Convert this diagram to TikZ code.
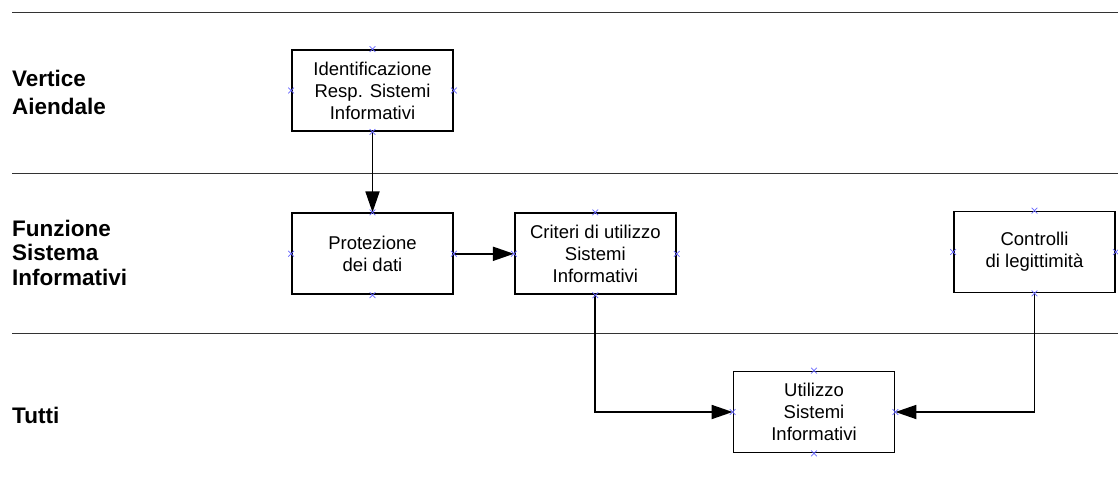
\documentclass[tikz,border=0pt]{standalone}
\usepackage{fontspec}
\setmainfont{Liberation Sans}
\usepackage{tikz}
\usetikzlibrary{arrows.meta,positioning,shapes.misc}
\newcommand{\boxfont}{\fontsize{18.5}{22}\selectfont}
\newcommand{\lanefont}{\fontsize{22.5}{24.5}\selectfont\bfseries}
\tikzset{%
	box/.style      = {draw, rectangle, line width=1.8pt, minimum width=161pt, minimum height=81pt, align=center, font=\boxfont},
	lane/.style     = {anchor=base west, align=left, inner sep=0pt, font=\lanefont}, % lane title
	sep/.style      = {draw=black!80, line width=1pt}, % lane border
	flow/.style     = {line width=1.8pt, -{Triangle[length=21pt,width=14pt]}},
	port/.style     = {cross out, draw=blue!60, line width=0.7pt, minimum size=5pt, inner sep=0pt}, % connection point
}
\begin{document}
\begin{tikzpicture}[x=1pt, y=-1pt, node distance = 80.5pt and 60pt]
	\useasboundingbox (0,0) rectangle (1118,489);
	% lanes
	\draw[sep] (12,13) -- (1118,13);
	\draw[sep] (12,174) -- (1118,174);
	\draw[sep] (12,333) -- (1118,333);
	\node[lane] (vert) at (12,115) {Vertice\\[3.5pt]Aiendale};
	\node[lane] (funz) at (12,285) {Funzione\\Sistema\\Informativi};
	\node[lane] (tutti) at (12,423) {Tutti};
	% activities
	\node[box] (ident) at (372.5,90.5) {Identificazione\\Resp. Sistemi\\Informativi};
	\node[box, below=of ident] (prot) {Protezione\\dei dati};
	\node[box, right=of prot] (crit) {Criteri di utilizzo\\Sistemi\\Informativi};
	\node[box] (ctrl) at (1034.5,252) {Controlli\\di legittimità};
	\node[box] (util) at (814,412) {Utilizzo\\Sistemi\\Informativi};
	\draw[flow] (ident) -- (prot);
	\draw[flow] (prot) -- (crit);
	\draw[flow] (crit.south) |- (util.west);
	\draw[flow] (ctrl.south) |- (util.east);
	% connection points
	\foreach \n in {ident,prot,crit,ctrl,util}
		\foreach \a in {north,south,east,west}
			\node[port] (\n-\a) at (\n.\a) {};
\end{tikzpicture}
\end{document}
